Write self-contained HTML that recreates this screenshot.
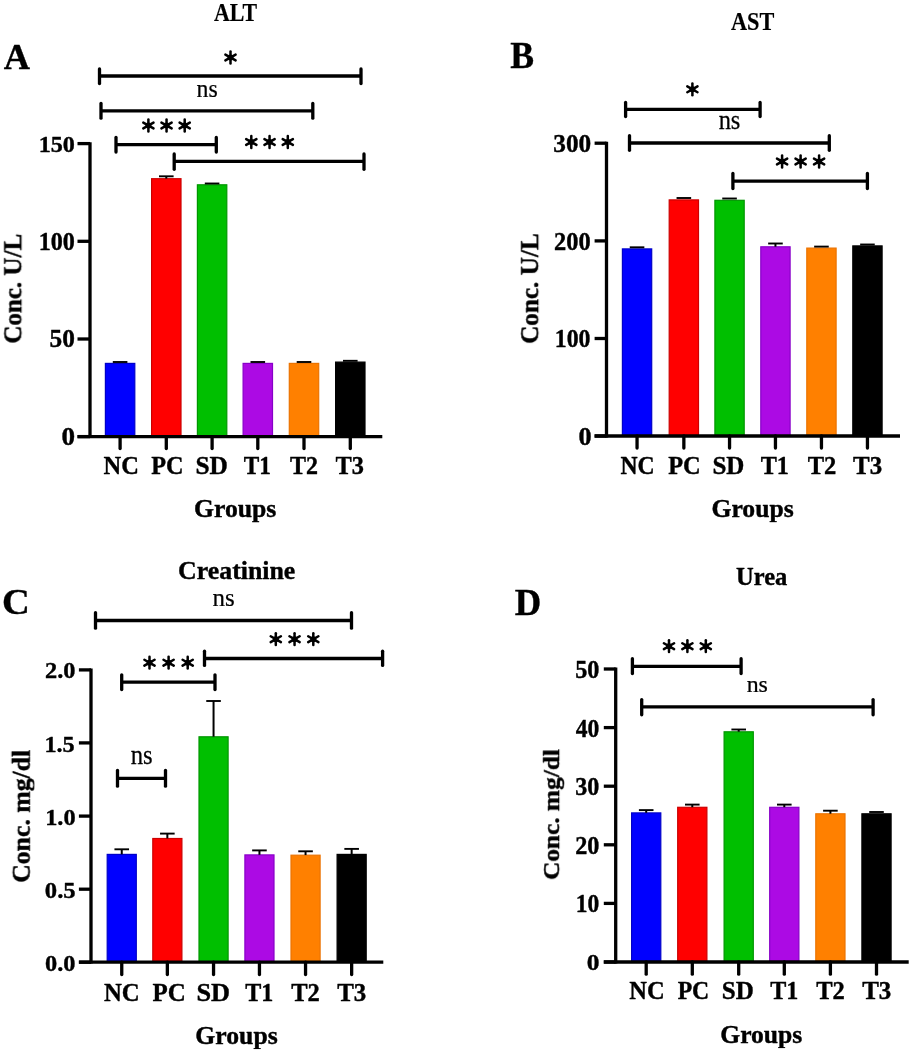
<!DOCTYPE html>
<html><head><meta charset="utf-8"><style>
html,body{margin:0;padding:0;background:#fff;}
svg{display:block;} text{will-change:transform;}
</style></head><body><div id="w">
<svg width="913" height="1055" viewBox="0 0 913 1055">
<rect width="913" height="1055" fill="#fff"/>
<rect x="105.40" y="363.40" width="29.40" height="73.20" fill="#0000ff" stroke="#0000c8" stroke-width="1.2"/>
<line x1="112.80" y1="362.00" x2="127.40" y2="362.00" stroke="#000" stroke-width="1.9" stroke-linecap="butt"/>
<rect x="151.60" y="178.70" width="29.40" height="257.90" fill="#ff0000" stroke="#cc0000" stroke-width="1.2"/>
<line x1="166.30" y1="178.60" x2="166.30" y2="176.30" stroke="#000" stroke-width="2.0" stroke-linecap="butt"/>
<line x1="159.00" y1="176.30" x2="173.60" y2="176.30" stroke="#000" stroke-width="1.9" stroke-linecap="butt"/>
<rect x="197.40" y="184.80" width="29.40" height="251.80" fill="#00bf00" stroke="#009600" stroke-width="1.2"/>
<line x1="204.80" y1="183.50" x2="219.40" y2="183.50" stroke="#000" stroke-width="1.9" stroke-linecap="butt"/>
<rect x="243.10" y="363.40" width="29.40" height="73.20" fill="#ac0ae4" stroke="#8800c8" stroke-width="1.2"/>
<line x1="250.50" y1="362.00" x2="265.10" y2="362.00" stroke="#000" stroke-width="1.9" stroke-linecap="butt"/>
<rect x="289.30" y="363.40" width="29.40" height="73.20" fill="#ff8000" stroke="#eb7300" stroke-width="1.2"/>
<line x1="296.70" y1="362.00" x2="311.30" y2="362.00" stroke="#000" stroke-width="1.9" stroke-linecap="butt"/>
<rect x="335.60" y="362.10" width="29.40" height="74.50" fill="#000000" stroke="#000000" stroke-width="1.2"/>
<line x1="343.00" y1="360.80" x2="357.60" y2="360.80" stroke="#000" stroke-width="1.9" stroke-linecap="butt"/>
<line x1="90.00" y1="142.20" x2="90.00" y2="438.00" stroke="#000" stroke-width="3.3" stroke-linecap="butt"/>
<line x1="77.50" y1="143.60" x2="90.00" y2="143.60" stroke="#000" stroke-width="3.3" stroke-linecap="butt"/>
<line x1="77.50" y1="241.30" x2="90.00" y2="241.30" stroke="#000" stroke-width="3.3" stroke-linecap="butt"/>
<line x1="77.50" y1="339.00" x2="90.00" y2="339.00" stroke="#000" stroke-width="3.3" stroke-linecap="butt"/>
<line x1="77.50" y1="436.60" x2="90.00" y2="436.60" stroke="#000" stroke-width="3.3" stroke-linecap="butt"/>
<line x1="77.50" y1="436.60" x2="382.30" y2="436.60" stroke="#000" stroke-width="3.3" stroke-linecap="butt"/>
<line x1="120.10" y1="436.60" x2="120.10" y2="448.50" stroke="#000" stroke-width="3.3" stroke-linecap="round"/>
<line x1="166.30" y1="436.60" x2="166.30" y2="448.50" stroke="#000" stroke-width="3.3" stroke-linecap="round"/>
<line x1="212.10" y1="436.60" x2="212.10" y2="448.50" stroke="#000" stroke-width="3.3" stroke-linecap="round"/>
<line x1="257.80" y1="436.60" x2="257.80" y2="448.50" stroke="#000" stroke-width="3.3" stroke-linecap="round"/>
<line x1="304.00" y1="436.60" x2="304.00" y2="448.50" stroke="#000" stroke-width="3.3" stroke-linecap="round"/>
<line x1="350.30" y1="436.60" x2="350.30" y2="448.50" stroke="#000" stroke-width="3.3" stroke-linecap="round"/>
<text font-family="Liberation Serif" font-weight="bold" font-size="200" transform="matrix(0.10930,0,0,0.12652,214.08,21.00)" stroke="#000" stroke-width="0.2" vector-effect="non-scaling-stroke" stroke-linejoin="round">ALT</text>
<text font-family="Liberation Serif" font-weight="bold" font-size="200" transform="matrix(0.18156,0,0,0.18409,3.64,68.50)" stroke="#000" stroke-width="0.4" vector-effect="non-scaling-stroke" stroke-linejoin="round">A</text>
<text font-family="Liberation Serif" font-weight="bold" font-size="200" transform="matrix(0.12065,0,0,0.11926,38.67,152.16)" stroke="#000" stroke-width="0.4" vector-effect="non-scaling-stroke" stroke-linejoin="round">150</text>
<text font-family="Liberation Serif" font-weight="bold" font-size="200" transform="matrix(0.12065,0,0,0.12519,38.67,249.85)" stroke="#000" stroke-width="0.4" vector-effect="non-scaling-stroke" stroke-linejoin="round">100</text>
<text font-family="Liberation Serif" font-weight="bold" font-size="200" transform="matrix(0.12663,0,0,0.12296,49.59,347.35)" stroke="#000" stroke-width="0.4" vector-effect="non-scaling-stroke" stroke-linejoin="round">50</text>
<text font-family="Liberation Serif" font-weight="bold" font-size="200" transform="matrix(0.13571,0,0,0.12296,61.51,445.05)" stroke="#000" stroke-width="0.4" vector-effect="non-scaling-stroke" stroke-linejoin="round">0</text>
<text font-family="Liberation Serif" font-weight="bold" font-size="200" transform="matrix(0.12230,0,0,0.12463,103.51,473.95)" stroke="#000" stroke-width="0.4" vector-effect="non-scaling-stroke" stroke-linejoin="round">NC</text>
<text font-family="Liberation Serif" font-weight="bold" font-size="200" transform="matrix(0.12097,0,0,0.12463,151.24,473.95)" stroke="#000" stroke-width="0.4" vector-effect="non-scaling-stroke" stroke-linejoin="round">PC</text>
<text font-family="Liberation Serif" font-weight="bold" font-size="200" transform="matrix(0.12681,0,0,0.12463,195.41,473.95)" stroke="#000" stroke-width="0.4" vector-effect="non-scaling-stroke" stroke-linejoin="round">SD</text>
<text font-family="Liberation Serif" font-weight="bold" font-size="200" transform="matrix(0.11636,0,0,0.12652,243.85,474.20)" stroke="#000" stroke-width="0.4" vector-effect="non-scaling-stroke" stroke-linejoin="round">T1</text>
<text font-family="Liberation Serif" font-weight="bold" font-size="200" transform="matrix(0.11982,0,0,0.12652,289.94,474.20)" stroke="#000" stroke-width="0.4" vector-effect="non-scaling-stroke" stroke-linejoin="round">T2</text>
<text font-family="Liberation Serif" font-weight="bold" font-size="200" transform="matrix(0.12152,0,0,0.12463,335.54,473.95)" stroke="#000" stroke-width="0.4" vector-effect="non-scaling-stroke" stroke-linejoin="round">T3</text>
<text font-family="Liberation Serif" font-weight="bold" font-size="200" transform="matrix(0.12859,0,0,0.12171,194.01,517.47)" stroke="#000" stroke-width="0.4" vector-effect="non-scaling-stroke" stroke-linejoin="round">Groups</text>
<text font-family="Liberation Serif" font-weight="bold" font-size="200" transform="matrix(0,-0.12538,0.12444,0,21.33,343.75)" stroke="#000" stroke-width="0.4" vector-effect="non-scaling-stroke" stroke-linejoin="round">Conc. U/L</text>
<line x1="99.50" y1="76.00" x2="361.00" y2="76.00" stroke="#000" stroke-width="3.3" stroke-linecap="butt"/>
<line x1="99.50" y1="68.90" x2="99.50" y2="83.50" stroke="#000" stroke-width="3.3" stroke-linecap="round"/>
<line x1="361.00" y1="68.90" x2="361.00" y2="83.50" stroke="#000" stroke-width="3.3" stroke-linecap="round"/>
<line x1="230.50" y1="51.60" x2="230.50" y2="63.40" stroke="#000" stroke-width="2.5" stroke-linecap="round"/>
<line x1="225.39" y1="54.55" x2="235.61" y2="60.45" stroke="#000" stroke-width="2.5" stroke-linecap="round"/>
<line x1="225.39" y1="60.45" x2="235.61" y2="54.55" stroke="#000" stroke-width="2.5" stroke-linecap="round"/>
<circle cx="230.50" cy="57.50" r="3" fill="#000"/>
<line x1="101.00" y1="110.80" x2="312.80" y2="110.80" stroke="#000" stroke-width="3.3" stroke-linecap="butt"/>
<line x1="101.00" y1="103.50" x2="101.00" y2="118.20" stroke="#000" stroke-width="3.3" stroke-linecap="round"/>
<line x1="312.80" y1="103.50" x2="312.80" y2="118.20" stroke="#000" stroke-width="3.3" stroke-linecap="round"/>
<text font-family="Liberation Serif" font-weight="normal" font-size="200" transform="matrix(0.11892,0,0,0.12562,196.54,96.63)" stroke="#000" stroke-width="0.24" vector-effect="non-scaling-stroke" stroke-linejoin="round">ns</text>
<line x1="116.00" y1="144.70" x2="216.30" y2="144.70" stroke="#000" stroke-width="3.3" stroke-linecap="butt"/>
<line x1="116.00" y1="137.40" x2="116.00" y2="152.00" stroke="#000" stroke-width="3.3" stroke-linecap="round"/>
<line x1="216.30" y1="137.40" x2="216.30" y2="152.00" stroke="#000" stroke-width="3.3" stroke-linecap="round"/>
<line x1="148.40" y1="119.60" x2="148.40" y2="131.40" stroke="#000" stroke-width="2.5" stroke-linecap="round"/>
<line x1="143.29" y1="122.55" x2="153.51" y2="128.45" stroke="#000" stroke-width="2.5" stroke-linecap="round"/>
<line x1="143.29" y1="128.45" x2="153.51" y2="122.55" stroke="#000" stroke-width="2.5" stroke-linecap="round"/>
<circle cx="148.40" cy="125.50" r="3" fill="#000"/>
<line x1="166.55" y1="119.60" x2="166.55" y2="131.40" stroke="#000" stroke-width="2.5" stroke-linecap="round"/>
<line x1="161.44" y1="122.55" x2="171.66" y2="128.45" stroke="#000" stroke-width="2.5" stroke-linecap="round"/>
<line x1="161.44" y1="128.45" x2="171.66" y2="122.55" stroke="#000" stroke-width="2.5" stroke-linecap="round"/>
<circle cx="166.55" cy="125.50" r="3" fill="#000"/>
<line x1="184.70" y1="119.60" x2="184.70" y2="131.40" stroke="#000" stroke-width="2.5" stroke-linecap="round"/>
<line x1="179.59" y1="122.55" x2="189.81" y2="128.45" stroke="#000" stroke-width="2.5" stroke-linecap="round"/>
<line x1="179.59" y1="128.45" x2="189.81" y2="122.55" stroke="#000" stroke-width="2.5" stroke-linecap="round"/>
<circle cx="184.70" cy="125.50" r="3" fill="#000"/>
<line x1="174.20" y1="161.30" x2="364.00" y2="161.30" stroke="#000" stroke-width="3.3" stroke-linecap="butt"/>
<line x1="174.20" y1="153.90" x2="174.20" y2="169.30" stroke="#000" stroke-width="3.3" stroke-linecap="round"/>
<line x1="364.00" y1="153.90" x2="364.00" y2="169.30" stroke="#000" stroke-width="3.3" stroke-linecap="round"/>
<line x1="251.30" y1="136.10" x2="251.30" y2="147.90" stroke="#000" stroke-width="2.5" stroke-linecap="round"/>
<line x1="246.19" y1="139.05" x2="256.41" y2="144.95" stroke="#000" stroke-width="2.5" stroke-linecap="round"/>
<line x1="246.19" y1="144.95" x2="256.41" y2="139.05" stroke="#000" stroke-width="2.5" stroke-linecap="round"/>
<circle cx="251.30" cy="142.00" r="3" fill="#000"/>
<line x1="269.55" y1="136.10" x2="269.55" y2="147.90" stroke="#000" stroke-width="2.5" stroke-linecap="round"/>
<line x1="264.44" y1="139.05" x2="274.66" y2="144.95" stroke="#000" stroke-width="2.5" stroke-linecap="round"/>
<line x1="264.44" y1="144.95" x2="274.66" y2="139.05" stroke="#000" stroke-width="2.5" stroke-linecap="round"/>
<circle cx="269.55" cy="142.00" r="3" fill="#000"/>
<line x1="287.80" y1="136.10" x2="287.80" y2="147.90" stroke="#000" stroke-width="2.5" stroke-linecap="round"/>
<line x1="282.69" y1="139.05" x2="292.91" y2="144.95" stroke="#000" stroke-width="2.5" stroke-linecap="round"/>
<line x1="282.69" y1="144.95" x2="292.91" y2="139.05" stroke="#000" stroke-width="2.5" stroke-linecap="round"/>
<circle cx="287.80" cy="142.00" r="3" fill="#000"/>
<rect x="622.40" y="248.90" width="29.30" height="187.10" fill="#0000ff" stroke="#0000c8" stroke-width="1.2"/>
<line x1="629.75" y1="247.30" x2="644.35" y2="247.30" stroke="#000" stroke-width="1.9" stroke-linecap="butt"/>
<rect x="669.20" y="199.90" width="29.30" height="236.10" fill="#ff0000" stroke="#cc0000" stroke-width="1.2"/>
<line x1="676.55" y1="198.00" x2="691.15" y2="198.00" stroke="#000" stroke-width="1.9" stroke-linecap="butt"/>
<rect x="714.90" y="200.30" width="29.30" height="235.70" fill="#00bf00" stroke="#009600" stroke-width="1.2"/>
<line x1="722.25" y1="198.50" x2="736.85" y2="198.50" stroke="#000" stroke-width="1.9" stroke-linecap="butt"/>
<rect x="760.80" y="246.80" width="29.30" height="189.20" fill="#ac0ae4" stroke="#8800c8" stroke-width="1.2"/>
<line x1="775.45" y1="246.70" x2="775.45" y2="243.50" stroke="#000" stroke-width="2.0" stroke-linecap="butt"/>
<line x1="768.15" y1="243.50" x2="782.75" y2="243.50" stroke="#000" stroke-width="1.9" stroke-linecap="butt"/>
<rect x="806.80" y="248.10" width="29.30" height="187.90" fill="#ff8000" stroke="#eb7300" stroke-width="1.2"/>
<line x1="814.15" y1="246.60" x2="828.75" y2="246.60" stroke="#000" stroke-width="1.9" stroke-linecap="butt"/>
<rect x="852.80" y="245.90" width="29.30" height="190.10" fill="#000000" stroke="#000000" stroke-width="1.2"/>
<line x1="860.15" y1="244.50" x2="874.75" y2="244.50" stroke="#000" stroke-width="1.9" stroke-linecap="butt"/>
<line x1="606.50" y1="141.80" x2="606.50" y2="437.40" stroke="#000" stroke-width="3.3" stroke-linecap="butt"/>
<line x1="594.60" y1="143.20" x2="606.50" y2="143.20" stroke="#000" stroke-width="3.3" stroke-linecap="butt"/>
<line x1="594.60" y1="240.90" x2="606.50" y2="240.90" stroke="#000" stroke-width="3.3" stroke-linecap="butt"/>
<line x1="594.60" y1="338.50" x2="606.50" y2="338.50" stroke="#000" stroke-width="3.3" stroke-linecap="butt"/>
<line x1="594.60" y1="436.00" x2="606.50" y2="436.00" stroke="#000" stroke-width="3.3" stroke-linecap="butt"/>
<line x1="594.60" y1="436.00" x2="900.00" y2="436.00" stroke="#000" stroke-width="3.3" stroke-linecap="butt"/>
<line x1="637.05" y1="436.00" x2="637.05" y2="448.00" stroke="#000" stroke-width="3.3" stroke-linecap="round"/>
<line x1="683.85" y1="436.00" x2="683.85" y2="448.00" stroke="#000" stroke-width="3.3" stroke-linecap="round"/>
<line x1="729.55" y1="436.00" x2="729.55" y2="448.00" stroke="#000" stroke-width="3.3" stroke-linecap="round"/>
<line x1="775.45" y1="436.00" x2="775.45" y2="448.00" stroke="#000" stroke-width="3.3" stroke-linecap="round"/>
<line x1="821.45" y1="436.00" x2="821.45" y2="448.00" stroke="#000" stroke-width="3.3" stroke-linecap="round"/>
<line x1="867.45" y1="436.00" x2="867.45" y2="448.00" stroke="#000" stroke-width="3.3" stroke-linecap="round"/>
<text font-family="Liberation Serif" font-weight="bold" font-size="200" transform="matrix(0.11146,0,0,0.12985,730.98,29.94)" stroke="#000" stroke-width="0.2" vector-effect="non-scaling-stroke" stroke-linejoin="round">AST</text>
<text font-family="Liberation Serif" font-weight="bold" font-size="200" transform="matrix(0.17840,0,0,0.18561,510.36,68.31)" stroke="#000" stroke-width="0.4" vector-effect="non-scaling-stroke" stroke-linejoin="round">B</text>
<text font-family="Liberation Serif" font-weight="bold" font-size="200" transform="matrix(0.12632,0,0,0.12667,553.32,151.85)" stroke="#000" stroke-width="0.4" vector-effect="non-scaling-stroke" stroke-linejoin="round">300</text>
<text font-family="Liberation Serif" font-weight="bold" font-size="200" transform="matrix(0.12218,0,0,0.12667,554.12,249.65)" stroke="#000" stroke-width="0.4" vector-effect="non-scaling-stroke" stroke-linejoin="round">200</text>
<text font-family="Liberation Serif" font-weight="bold" font-size="200" transform="matrix(0.11920,0,0,0.12444,554.79,347.15)" stroke="#000" stroke-width="0.4" vector-effect="non-scaling-stroke" stroke-linejoin="round">100</text>
<text font-family="Liberation Serif" font-weight="bold" font-size="200" transform="matrix(0.13095,0,0,0.12296,578.55,444.55)" stroke="#000" stroke-width="0.4" vector-effect="non-scaling-stroke" stroke-linejoin="round">0</text>
<text font-family="Liberation Serif" font-weight="bold" font-size="200" transform="matrix(0.11822,0,0,0.12612,620.43,474.15)" stroke="#000" stroke-width="0.4" vector-effect="non-scaling-stroke" stroke-linejoin="round">NC</text>
<text font-family="Liberation Serif" font-weight="bold" font-size="200" transform="matrix(0.12177,0,0,0.12612,668.13,474.15)" stroke="#000" stroke-width="0.4" vector-effect="non-scaling-stroke" stroke-linejoin="round">PC</text>
<text font-family="Liberation Serif" font-weight="bold" font-size="200" transform="matrix(0.12511,0,0,0.12612,712.42,474.15)" stroke="#000" stroke-width="0.4" vector-effect="non-scaling-stroke" stroke-linejoin="round">SD</text>
<text font-family="Liberation Serif" font-weight="bold" font-size="200" transform="matrix(0.12091,0,0,0.12803,760.74,474.40)" stroke="#000" stroke-width="0.4" vector-effect="non-scaling-stroke" stroke-linejoin="round">T1</text>
<text font-family="Liberation Serif" font-weight="bold" font-size="200" transform="matrix(0.12252,0,0,0.12803,807.63,474.40)" stroke="#000" stroke-width="0.4" vector-effect="non-scaling-stroke" stroke-linejoin="round">T2</text>
<text font-family="Liberation Serif" font-weight="bold" font-size="200" transform="matrix(0.12466,0,0,0.12612,853.03,474.15)" stroke="#000" stroke-width="0.4" vector-effect="non-scaling-stroke" stroke-linejoin="round">T3</text>
<text font-family="Liberation Serif" font-weight="bold" font-size="200" transform="matrix(0.12843,0,0,0.12400,711.42,517.37)" stroke="#000" stroke-width="0.4" vector-effect="non-scaling-stroke" stroke-linejoin="round">Groups</text>
<text font-family="Liberation Serif" font-weight="bold" font-size="200" transform="matrix(0,-0.12608,0.12815,0,538.52,343.96)" stroke="#000" stroke-width="0.4" vector-effect="non-scaling-stroke" stroke-linejoin="round">Conc. U/L</text>
<line x1="625.60" y1="109.40" x2="760.10" y2="109.40" stroke="#000" stroke-width="3.3" stroke-linecap="butt"/>
<line x1="625.60" y1="102.40" x2="625.60" y2="116.50" stroke="#000" stroke-width="3.3" stroke-linecap="round"/>
<line x1="760.10" y1="102.40" x2="760.10" y2="116.50" stroke="#000" stroke-width="3.3" stroke-linecap="round"/>
<line x1="692.40" y1="83.40" x2="692.40" y2="95.20" stroke="#000" stroke-width="2.5" stroke-linecap="round"/>
<line x1="687.29" y1="86.35" x2="697.51" y2="92.25" stroke="#000" stroke-width="2.5" stroke-linecap="round"/>
<line x1="687.29" y1="92.25" x2="697.51" y2="86.35" stroke="#000" stroke-width="2.5" stroke-linecap="round"/>
<circle cx="692.40" cy="89.30" r="3" fill="#000"/>
<line x1="629.50" y1="143.00" x2="829.30" y2="143.00" stroke="#000" stroke-width="3.3" stroke-linecap="butt"/>
<line x1="629.50" y1="135.70" x2="629.50" y2="150.30" stroke="#000" stroke-width="3.3" stroke-linecap="round"/>
<line x1="829.30" y1="135.70" x2="829.30" y2="150.30" stroke="#000" stroke-width="3.3" stroke-linecap="round"/>
<text font-family="Liberation Serif" font-weight="normal" font-size="200" transform="matrix(0.12251,0,0,0.13500,718.63,129.21)" stroke="#000" stroke-width="0.24" vector-effect="non-scaling-stroke" stroke-linejoin="round">ns</text>
<line x1="732.90" y1="181.20" x2="867.40" y2="181.20" stroke="#000" stroke-width="3.3" stroke-linecap="butt"/>
<line x1="732.90" y1="173.40" x2="732.90" y2="188.50" stroke="#000" stroke-width="3.3" stroke-linecap="round"/>
<line x1="867.40" y1="173.40" x2="867.40" y2="188.50" stroke="#000" stroke-width="3.3" stroke-linecap="round"/>
<line x1="782.10" y1="155.60" x2="782.10" y2="167.40" stroke="#000" stroke-width="2.5" stroke-linecap="round"/>
<line x1="776.99" y1="158.55" x2="787.21" y2="164.45" stroke="#000" stroke-width="2.5" stroke-linecap="round"/>
<line x1="776.99" y1="164.45" x2="787.21" y2="158.55" stroke="#000" stroke-width="2.5" stroke-linecap="round"/>
<circle cx="782.10" cy="161.50" r="3" fill="#000"/>
<line x1="800.60" y1="155.60" x2="800.60" y2="167.40" stroke="#000" stroke-width="2.5" stroke-linecap="round"/>
<line x1="795.49" y1="158.55" x2="805.71" y2="164.45" stroke="#000" stroke-width="2.5" stroke-linecap="round"/>
<line x1="795.49" y1="164.45" x2="805.71" y2="158.55" stroke="#000" stroke-width="2.5" stroke-linecap="round"/>
<circle cx="800.60" cy="161.50" r="3" fill="#000"/>
<line x1="819.10" y1="155.60" x2="819.10" y2="167.40" stroke="#000" stroke-width="2.5" stroke-linecap="round"/>
<line x1="813.99" y1="158.55" x2="824.21" y2="164.45" stroke="#000" stroke-width="2.5" stroke-linecap="round"/>
<line x1="813.99" y1="164.45" x2="824.21" y2="158.55" stroke="#000" stroke-width="2.5" stroke-linecap="round"/>
<circle cx="819.10" cy="161.50" r="3" fill="#000"/>
<rect x="107.20" y="854.40" width="29.10" height="107.80" fill="#0000ff" stroke="#0000c8" stroke-width="1.2"/>
<line x1="121.75" y1="854.30" x2="121.75" y2="849.30" stroke="#000" stroke-width="2.0" stroke-linecap="butt"/>
<line x1="114.45" y1="849.30" x2="129.05" y2="849.30" stroke="#000" stroke-width="1.9" stroke-linecap="butt"/>
<rect x="152.80" y="838.50" width="29.10" height="123.70" fill="#ff0000" stroke="#cc0000" stroke-width="1.2"/>
<line x1="167.35" y1="838.40" x2="167.35" y2="833.60" stroke="#000" stroke-width="2.0" stroke-linecap="butt"/>
<line x1="160.05" y1="833.60" x2="174.65" y2="833.60" stroke="#000" stroke-width="1.9" stroke-linecap="butt"/>
<rect x="199.00" y="736.80" width="29.10" height="225.40" fill="#00bf00" stroke="#009600" stroke-width="1.2"/>
<line x1="213.55" y1="736.70" x2="213.55" y2="701.00" stroke="#000" stroke-width="2.0" stroke-linecap="butt"/>
<line x1="206.25" y1="701.00" x2="220.85" y2="701.00" stroke="#000" stroke-width="1.9" stroke-linecap="butt"/>
<rect x="244.90" y="854.90" width="29.10" height="107.30" fill="#ac0ae4" stroke="#8800c8" stroke-width="1.2"/>
<line x1="259.45" y1="854.80" x2="259.45" y2="850.40" stroke="#000" stroke-width="2.0" stroke-linecap="butt"/>
<line x1="252.15" y1="850.40" x2="266.75" y2="850.40" stroke="#000" stroke-width="1.9" stroke-linecap="butt"/>
<rect x="291.00" y="855.20" width="29.10" height="107.00" fill="#ff8000" stroke="#eb7300" stroke-width="1.2"/>
<line x1="305.55" y1="855.10" x2="305.55" y2="851.30" stroke="#000" stroke-width="2.0" stroke-linecap="butt"/>
<line x1="298.25" y1="851.30" x2="312.85" y2="851.30" stroke="#000" stroke-width="1.9" stroke-linecap="butt"/>
<rect x="337.10" y="854.40" width="29.10" height="107.80" fill="#000000" stroke="#000000" stroke-width="1.2"/>
<line x1="351.65" y1="854.30" x2="351.65" y2="848.90" stroke="#000" stroke-width="2.0" stroke-linecap="butt"/>
<line x1="344.35" y1="848.90" x2="358.95" y2="848.90" stroke="#000" stroke-width="1.9" stroke-linecap="butt"/>
<line x1="91.00" y1="668.50" x2="91.00" y2="963.60" stroke="#000" stroke-width="3.3" stroke-linecap="butt"/>
<line x1="78.90" y1="669.90" x2="91.00" y2="669.90" stroke="#000" stroke-width="3.3" stroke-linecap="butt"/>
<line x1="78.90" y1="742.90" x2="91.00" y2="742.90" stroke="#000" stroke-width="3.3" stroke-linecap="butt"/>
<line x1="78.90" y1="816.10" x2="91.00" y2="816.10" stroke="#000" stroke-width="3.3" stroke-linecap="butt"/>
<line x1="78.90" y1="889.20" x2="91.00" y2="889.20" stroke="#000" stroke-width="3.3" stroke-linecap="butt"/>
<line x1="78.90" y1="962.20" x2="91.00" y2="962.20" stroke="#000" stroke-width="3.3" stroke-linecap="butt"/>
<line x1="78.90" y1="962.20" x2="383.30" y2="962.20" stroke="#000" stroke-width="3.3" stroke-linecap="butt"/>
<line x1="121.75" y1="962.20" x2="121.75" y2="974.50" stroke="#000" stroke-width="3.3" stroke-linecap="round"/>
<line x1="167.35" y1="962.20" x2="167.35" y2="974.50" stroke="#000" stroke-width="3.3" stroke-linecap="round"/>
<line x1="213.55" y1="962.20" x2="213.55" y2="974.50" stroke="#000" stroke-width="3.3" stroke-linecap="round"/>
<line x1="259.45" y1="962.20" x2="259.45" y2="974.50" stroke="#000" stroke-width="3.3" stroke-linecap="round"/>
<line x1="305.55" y1="962.20" x2="305.55" y2="974.50" stroke="#000" stroke-width="3.3" stroke-linecap="round"/>
<line x1="351.65" y1="962.20" x2="351.65" y2="974.50" stroke="#000" stroke-width="3.3" stroke-linecap="round"/>
<text font-family="Liberation Serif" font-weight="bold" font-size="200" transform="matrix(0.12923,0,0,0.12199,178.11,579.06)" stroke="#000" stroke-width="0.4" vector-effect="non-scaling-stroke" stroke-linejoin="round">Creatinine</text>
<text font-family="Liberation Serif" font-weight="bold" font-size="200" transform="matrix(0.19244,0,0,0.18284,2.08,613.83)" stroke="#000" stroke-width="0.4" vector-effect="non-scaling-stroke" stroke-linejoin="round">C</text>
<text font-family="Liberation Serif" font-weight="bold" font-size="200" transform="matrix(0.12179,0,0,0.11985,45.03,678.14)" stroke="#000" stroke-width="0.4" vector-effect="non-scaling-stroke" stroke-linejoin="round">2.0</text>
<text font-family="Liberation Serif" font-weight="bold" font-size="200" transform="matrix(0.12115,0,0,0.11704,44.46,751.85)" stroke="#000" stroke-width="0.4" vector-effect="non-scaling-stroke" stroke-linejoin="round">1.5</text>
<text font-family="Liberation Serif" font-weight="bold" font-size="200" transform="matrix(0.12168,0,0,0.12059,45.15,824.74)" stroke="#000" stroke-width="0.4" vector-effect="non-scaling-stroke" stroke-linejoin="round">1.0</text>
<text font-family="Liberation Serif" font-weight="bold" font-size="200" transform="matrix(0.12340,0,0,0.11985,44.81,897.74)" stroke="#000" stroke-width="0.4" vector-effect="non-scaling-stroke" stroke-linejoin="round">0.5</text>
<text font-family="Liberation Serif" font-weight="bold" font-size="200" transform="matrix(0.12179,0,0,0.11250,45.03,970.96)" stroke="#000" stroke-width="0.4" vector-effect="non-scaling-stroke" stroke-linejoin="round">0.0</text>
<text font-family="Liberation Serif" font-weight="bold" font-size="200" transform="matrix(0.12379,0,0,0.12537,103.90,1000.55)" stroke="#000" stroke-width="0.4" vector-effect="non-scaling-stroke" stroke-linejoin="round">NC</text>
<text font-family="Liberation Serif" font-weight="bold" font-size="200" transform="matrix(0.12460,0,0,0.12537,152.43,1000.55)" stroke="#000" stroke-width="0.4" vector-effect="non-scaling-stroke" stroke-linejoin="round">PC</text>
<text font-family="Liberation Serif" font-weight="bold" font-size="200" transform="matrix(0.13149,0,0,0.12537,196.45,1000.55)" stroke="#000" stroke-width="0.4" vector-effect="non-scaling-stroke" stroke-linejoin="round">SD</text>
<text font-family="Liberation Serif" font-weight="bold" font-size="200" transform="matrix(0.12045,0,0,0.12727,245.14,1000.80)" stroke="#000" stroke-width="0.4" vector-effect="non-scaling-stroke" stroke-linejoin="round">T1</text>
<text font-family="Liberation Serif" font-weight="bold" font-size="200" transform="matrix(0.12252,0,0,0.12727,291.13,1000.80)" stroke="#000" stroke-width="0.4" vector-effect="non-scaling-stroke" stroke-linejoin="round">T2</text>
<text font-family="Liberation Serif" font-weight="bold" font-size="200" transform="matrix(0.12466,0,0,0.12537,337.13,1000.55)" stroke="#000" stroke-width="0.4" vector-effect="non-scaling-stroke" stroke-linejoin="round">T3</text>
<text font-family="Liberation Serif" font-weight="bold" font-size="200" transform="matrix(0.12859,0,0,0.12343,195.31,1043.99)" stroke="#000" stroke-width="0.4" vector-effect="non-scaling-stroke" stroke-linejoin="round">Groups</text>
<text font-family="Liberation Serif" font-weight="bold" font-size="200" transform="matrix(0,-0.12892,0.12240,0,29.31,882.89)" stroke="#000" stroke-width="0.4" vector-effect="non-scaling-stroke" stroke-linejoin="round">Conc. mg/dl</text>
<line x1="95.50" y1="620.50" x2="351.50" y2="620.50" stroke="#000" stroke-width="3.3" stroke-linecap="butt"/>
<line x1="95.50" y1="612.70" x2="95.50" y2="628.20" stroke="#000" stroke-width="3.3" stroke-linecap="round"/>
<line x1="351.50" y1="612.70" x2="351.50" y2="628.20" stroke="#000" stroke-width="3.3" stroke-linecap="round"/>
<text font-family="Liberation Serif" font-weight="normal" font-size="200" transform="matrix(0.12491,0,0,0.12875,212.42,606.22)" stroke="#000" stroke-width="0.24" vector-effect="non-scaling-stroke" stroke-linejoin="round">ns</text>
<line x1="204.50" y1="658.50" x2="382.60" y2="658.50" stroke="#000" stroke-width="3.3" stroke-linecap="butt"/>
<line x1="204.50" y1="651.20" x2="204.50" y2="665.40" stroke="#000" stroke-width="3.3" stroke-linecap="round"/>
<line x1="382.60" y1="651.20" x2="382.60" y2="665.40" stroke="#000" stroke-width="3.3" stroke-linecap="round"/>
<line x1="275.80" y1="633.30" x2="275.80" y2="645.10" stroke="#000" stroke-width="2.5" stroke-linecap="round"/>
<line x1="270.69" y1="636.25" x2="280.91" y2="642.15" stroke="#000" stroke-width="2.5" stroke-linecap="round"/>
<line x1="270.69" y1="642.15" x2="280.91" y2="636.25" stroke="#000" stroke-width="2.5" stroke-linecap="round"/>
<circle cx="275.80" cy="639.20" r="3" fill="#000"/>
<line x1="294.55" y1="633.30" x2="294.55" y2="645.10" stroke="#000" stroke-width="2.5" stroke-linecap="round"/>
<line x1="289.44" y1="636.25" x2="299.66" y2="642.15" stroke="#000" stroke-width="2.5" stroke-linecap="round"/>
<line x1="289.44" y1="642.15" x2="299.66" y2="636.25" stroke="#000" stroke-width="2.5" stroke-linecap="round"/>
<circle cx="294.55" cy="639.20" r="3" fill="#000"/>
<line x1="313.30" y1="633.30" x2="313.30" y2="645.10" stroke="#000" stroke-width="2.5" stroke-linecap="round"/>
<line x1="308.19" y1="636.25" x2="318.41" y2="642.15" stroke="#000" stroke-width="2.5" stroke-linecap="round"/>
<line x1="308.19" y1="642.15" x2="318.41" y2="636.25" stroke="#000" stroke-width="2.5" stroke-linecap="round"/>
<circle cx="313.30" cy="639.20" r="3" fill="#000"/>
<line x1="121.70" y1="682.20" x2="215.00" y2="682.20" stroke="#000" stroke-width="3.3" stroke-linecap="butt"/>
<line x1="121.70" y1="674.80" x2="121.70" y2="689.50" stroke="#000" stroke-width="3.3" stroke-linecap="round"/>
<line x1="215.00" y1="674.80" x2="215.00" y2="689.50" stroke="#000" stroke-width="3.3" stroke-linecap="round"/>
<line x1="149.50" y1="656.80" x2="149.50" y2="668.60" stroke="#000" stroke-width="2.5" stroke-linecap="round"/>
<line x1="144.39" y1="659.75" x2="154.61" y2="665.65" stroke="#000" stroke-width="2.5" stroke-linecap="round"/>
<line x1="144.39" y1="665.65" x2="154.61" y2="659.75" stroke="#000" stroke-width="2.5" stroke-linecap="round"/>
<circle cx="149.50" cy="662.70" r="3" fill="#000"/>
<line x1="168.60" y1="656.80" x2="168.60" y2="668.60" stroke="#000" stroke-width="2.5" stroke-linecap="round"/>
<line x1="163.49" y1="659.75" x2="173.71" y2="665.65" stroke="#000" stroke-width="2.5" stroke-linecap="round"/>
<line x1="163.49" y1="665.65" x2="173.71" y2="659.75" stroke="#000" stroke-width="2.5" stroke-linecap="round"/>
<circle cx="168.60" cy="662.70" r="3" fill="#000"/>
<line x1="187.70" y1="656.80" x2="187.70" y2="668.60" stroke="#000" stroke-width="2.5" stroke-linecap="round"/>
<line x1="182.59" y1="659.75" x2="192.81" y2="665.65" stroke="#000" stroke-width="2.5" stroke-linecap="round"/>
<line x1="182.59" y1="665.65" x2="192.81" y2="659.75" stroke="#000" stroke-width="2.5" stroke-linecap="round"/>
<circle cx="187.70" cy="662.70" r="3" fill="#000"/>
<line x1="117.50" y1="778.30" x2="165.50" y2="778.30" stroke="#000" stroke-width="3.3" stroke-linecap="butt"/>
<line x1="117.50" y1="770.40" x2="117.50" y2="786.20" stroke="#000" stroke-width="3.3" stroke-linecap="round"/>
<line x1="165.50" y1="770.40" x2="165.50" y2="786.20" stroke="#000" stroke-width="3.3" stroke-linecap="round"/>
<text font-family="Liberation Serif" font-weight="normal" font-size="200" transform="matrix(0.12371,0,0,0.13917,130.63,764.20)" stroke="#000" stroke-width="0.24" vector-effect="non-scaling-stroke" stroke-linejoin="round">ns</text>
<rect x="631.60" y="812.90" width="29.20" height="149.10" fill="#0000ff" stroke="#0000c8" stroke-width="1.2"/>
<line x1="646.20" y1="812.80" x2="646.20" y2="810.10" stroke="#000" stroke-width="2.0" stroke-linecap="butt"/>
<line x1="638.90" y1="810.10" x2="653.50" y2="810.10" stroke="#000" stroke-width="1.9" stroke-linecap="butt"/>
<rect x="677.70" y="807.30" width="29.20" height="154.70" fill="#ff0000" stroke="#cc0000" stroke-width="1.2"/>
<line x1="692.30" y1="807.20" x2="692.30" y2="804.60" stroke="#000" stroke-width="2.0" stroke-linecap="butt"/>
<line x1="685.00" y1="804.60" x2="699.60" y2="804.60" stroke="#000" stroke-width="1.9" stroke-linecap="butt"/>
<rect x="724.10" y="731.80" width="29.20" height="230.20" fill="#00bf00" stroke="#009600" stroke-width="1.2"/>
<line x1="738.70" y1="731.70" x2="738.70" y2="729.50" stroke="#000" stroke-width="2.0" stroke-linecap="butt"/>
<line x1="731.40" y1="729.50" x2="746.00" y2="729.50" stroke="#000" stroke-width="1.9" stroke-linecap="butt"/>
<rect x="769.70" y="807.30" width="29.20" height="154.70" fill="#ac0ae4" stroke="#8800c8" stroke-width="1.2"/>
<line x1="784.30" y1="807.20" x2="784.30" y2="804.60" stroke="#000" stroke-width="2.0" stroke-linecap="butt"/>
<line x1="777.00" y1="804.60" x2="791.60" y2="804.60" stroke="#000" stroke-width="1.9" stroke-linecap="butt"/>
<rect x="815.80" y="813.80" width="29.20" height="148.20" fill="#ff8000" stroke="#eb7300" stroke-width="1.2"/>
<line x1="830.40" y1="813.70" x2="830.40" y2="810.70" stroke="#000" stroke-width="2.0" stroke-linecap="butt"/>
<line x1="823.10" y1="810.70" x2="837.70" y2="810.70" stroke="#000" stroke-width="1.9" stroke-linecap="butt"/>
<rect x="861.90" y="813.80" width="29.20" height="148.20" fill="#000000" stroke="#000000" stroke-width="1.2"/>
<line x1="869.20" y1="812.00" x2="883.80" y2="812.00" stroke="#000" stroke-width="1.9" stroke-linecap="butt"/>
<line x1="615.70" y1="667.60" x2="615.70" y2="963.40" stroke="#000" stroke-width="3.3" stroke-linecap="butt"/>
<line x1="603.80" y1="669.00" x2="615.70" y2="669.00" stroke="#000" stroke-width="3.3" stroke-linecap="butt"/>
<line x1="603.80" y1="727.60" x2="615.70" y2="727.60" stroke="#000" stroke-width="3.3" stroke-linecap="butt"/>
<line x1="603.80" y1="786.20" x2="615.70" y2="786.20" stroke="#000" stroke-width="3.3" stroke-linecap="butt"/>
<line x1="603.80" y1="844.80" x2="615.70" y2="844.80" stroke="#000" stroke-width="3.3" stroke-linecap="butt"/>
<line x1="603.80" y1="903.40" x2="615.70" y2="903.40" stroke="#000" stroke-width="3.3" stroke-linecap="butt"/>
<line x1="603.80" y1="962.00" x2="615.70" y2="962.00" stroke="#000" stroke-width="3.3" stroke-linecap="butt"/>
<line x1="603.80" y1="962.00" x2="908.70" y2="962.00" stroke="#000" stroke-width="3.3" stroke-linecap="butt"/>
<line x1="646.20" y1="962.00" x2="646.20" y2="974.20" stroke="#000" stroke-width="3.3" stroke-linecap="round"/>
<line x1="692.30" y1="962.00" x2="692.30" y2="974.20" stroke="#000" stroke-width="3.3" stroke-linecap="round"/>
<line x1="738.70" y1="962.00" x2="738.70" y2="974.20" stroke="#000" stroke-width="3.3" stroke-linecap="round"/>
<line x1="784.30" y1="962.00" x2="784.30" y2="974.20" stroke="#000" stroke-width="3.3" stroke-linecap="round"/>
<line x1="830.40" y1="962.00" x2="830.40" y2="974.20" stroke="#000" stroke-width="3.3" stroke-linecap="round"/>
<line x1="876.50" y1="962.00" x2="876.50" y2="974.20" stroke="#000" stroke-width="3.3" stroke-linecap="round"/>
<text font-family="Liberation Serif" font-weight="bold" font-size="200" transform="matrix(0.12244,0,0,0.13008,736.09,585.24)" stroke="#000" stroke-width="0.4" vector-effect="non-scaling-stroke" stroke-linejoin="round">Urea</text>
<text font-family="Liberation Serif" font-weight="bold" font-size="200" transform="matrix(0.18333,0,0,0.18702,514.75,614.60)" stroke="#000" stroke-width="0.4" vector-effect="non-scaling-stroke" stroke-linejoin="round">D</text>
<text font-family="Liberation Serif" font-weight="bold" font-size="200" transform="matrix(0.12120,0,0,0.12593,575.13,677.95)" stroke="#000" stroke-width="0.4" vector-effect="non-scaling-stroke" stroke-linejoin="round">50</text>
<text font-family="Liberation Serif" font-weight="bold" font-size="200" transform="matrix(0.11799,0,0,0.12593,575.75,736.55)" stroke="#000" stroke-width="0.4" vector-effect="non-scaling-stroke" stroke-linejoin="round">40</text>
<text font-family="Liberation Serif" font-weight="bold" font-size="200" transform="matrix(0.12054,0,0,0.12593,575.26,795.15)" stroke="#000" stroke-width="0.4" vector-effect="non-scaling-stroke" stroke-linejoin="round">30</text>
<text font-family="Liberation Serif" font-weight="bold" font-size="200" transform="matrix(0.12120,0,0,0.12593,575.13,853.75)" stroke="#000" stroke-width="0.4" vector-effect="non-scaling-stroke" stroke-linejoin="round">20</text>
<text font-family="Liberation Serif" font-weight="bold" font-size="200" transform="matrix(0.11761,0,0,0.12593,575.82,912.35)" stroke="#000" stroke-width="0.4" vector-effect="non-scaling-stroke" stroke-linejoin="round">10</text>
<text font-family="Liberation Serif" font-weight="bold" font-size="200" transform="matrix(0.12738,0,0,0.11926,586.68,969.96)" stroke="#000" stroke-width="0.4" vector-effect="non-scaling-stroke" stroke-linejoin="round">0</text>
<text font-family="Liberation Serif" font-weight="bold" font-size="200" transform="matrix(0.12230,0,0,0.12090,629.31,998.76)" stroke="#000" stroke-width="0.4" vector-effect="non-scaling-stroke" stroke-linejoin="round">NC</text>
<text font-family="Liberation Serif" font-weight="bold" font-size="200" transform="matrix(0.11855,0,0,0.12090,677.64,998.76)" stroke="#000" stroke-width="0.4" vector-effect="non-scaling-stroke" stroke-linejoin="round">PC</text>
<text font-family="Liberation Serif" font-weight="bold" font-size="200" transform="matrix(0.12511,0,0,0.12090,721.82,998.76)" stroke="#000" stroke-width="0.4" vector-effect="non-scaling-stroke" stroke-linejoin="round">SD</text>
<text font-family="Liberation Serif" font-weight="bold" font-size="200" transform="matrix(0.12045,0,0,0.12273,770.14,999.00)" stroke="#000" stroke-width="0.4" vector-effect="non-scaling-stroke" stroke-linejoin="round">T1</text>
<text font-family="Liberation Serif" font-weight="bold" font-size="200" transform="matrix(0.12252,0,0,0.12273,816.13,999.00)" stroke="#000" stroke-width="0.4" vector-effect="non-scaling-stroke" stroke-linejoin="round">T2</text>
<text font-family="Liberation Serif" font-weight="bold" font-size="200" transform="matrix(0.12466,0,0,0.12090,862.13,998.76)" stroke="#000" stroke-width="0.4" vector-effect="non-scaling-stroke" stroke-linejoin="round">T3</text>
<text font-family="Liberation Serif" font-weight="bold" font-size="200" transform="matrix(0.12812,0,0,0.12514,720.22,1042.92)" stroke="#000" stroke-width="0.4" vector-effect="non-scaling-stroke" stroke-linejoin="round">Groups</text>
<text font-family="Liberation Serif" font-weight="bold" font-size="200" transform="matrix(0,-0.12676,0.11639,0,559.28,880.07)" stroke="#000" stroke-width="0.4" vector-effect="non-scaling-stroke" stroke-linejoin="round">Conc. mg/dl</text>
<line x1="632.40" y1="666.40" x2="741.10" y2="666.40" stroke="#000" stroke-width="3.3" stroke-linecap="butt"/>
<line x1="632.40" y1="658.70" x2="632.40" y2="673.50" stroke="#000" stroke-width="3.3" stroke-linecap="round"/>
<line x1="741.10" y1="658.70" x2="741.10" y2="673.50" stroke="#000" stroke-width="3.3" stroke-linecap="round"/>
<line x1="669.00" y1="640.30" x2="669.00" y2="652.10" stroke="#000" stroke-width="2.5" stroke-linecap="round"/>
<line x1="663.89" y1="643.25" x2="674.11" y2="649.15" stroke="#000" stroke-width="2.5" stroke-linecap="round"/>
<line x1="663.89" y1="649.15" x2="674.11" y2="643.25" stroke="#000" stroke-width="2.5" stroke-linecap="round"/>
<circle cx="669.00" cy="646.20" r="3" fill="#000"/>
<line x1="687.40" y1="640.30" x2="687.40" y2="652.10" stroke="#000" stroke-width="2.5" stroke-linecap="round"/>
<line x1="682.29" y1="643.25" x2="692.51" y2="649.15" stroke="#000" stroke-width="2.5" stroke-linecap="round"/>
<line x1="682.29" y1="649.15" x2="692.51" y2="643.25" stroke="#000" stroke-width="2.5" stroke-linecap="round"/>
<circle cx="687.40" cy="646.20" r="3" fill="#000"/>
<line x1="705.80" y1="640.30" x2="705.80" y2="652.10" stroke="#000" stroke-width="2.5" stroke-linecap="round"/>
<line x1="700.69" y1="643.25" x2="710.91" y2="649.15" stroke="#000" stroke-width="2.5" stroke-linecap="round"/>
<line x1="700.69" y1="649.15" x2="710.91" y2="643.25" stroke="#000" stroke-width="2.5" stroke-linecap="round"/>
<circle cx="705.80" cy="646.20" r="3" fill="#000"/>
<line x1="641.70" y1="706.80" x2="873.10" y2="706.80" stroke="#000" stroke-width="3.3" stroke-linecap="butt"/>
<line x1="641.70" y1="699.60" x2="641.70" y2="714.80" stroke="#000" stroke-width="3.3" stroke-linecap="round"/>
<line x1="873.10" y1="699.60" x2="873.10" y2="714.80" stroke="#000" stroke-width="3.3" stroke-linecap="round"/>
<text font-family="Liberation Serif" font-weight="normal" font-size="200" transform="matrix(0.11952,0,0,0.11729,746.64,691.85)" stroke="#000" stroke-width="0.24" vector-effect="non-scaling-stroke" stroke-linejoin="round">ns</text>
</svg></div>
</body></html>
